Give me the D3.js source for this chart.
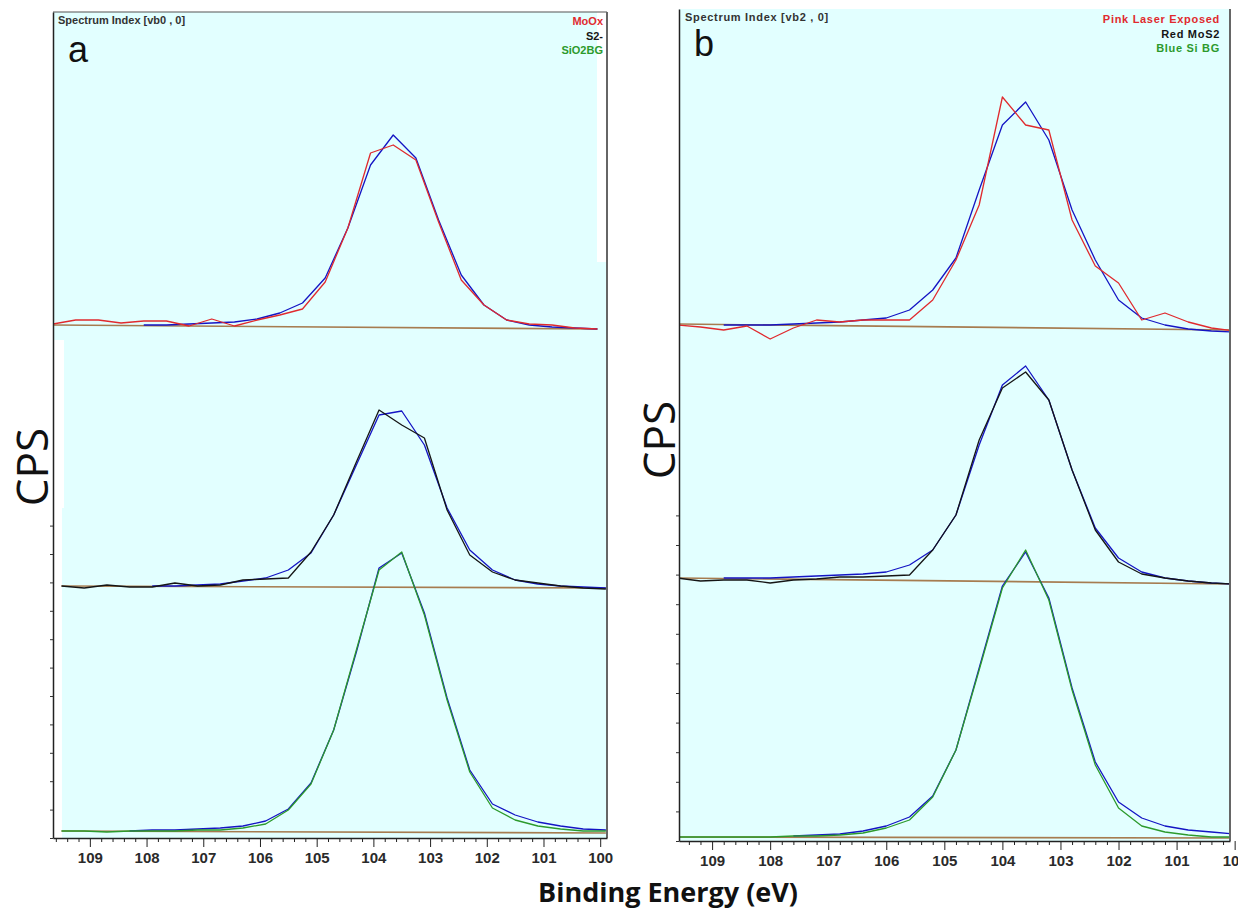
<!DOCTYPE html>
<html>
<head>
<meta charset="utf-8">
<script src="https://cdn.jsdelivr.net/npm/d3@7"></script>
<style>
  body { margin: 0; background: #fff; }
  svg text { font-family: "Liberation Sans", Arial, sans-serif; }
</style>
</head>
<body>
<svg id="chart" width="1238" height="913"></svg>
<script>
// ---- data (binding energy in eV, intensity in stacked CPS units) ----
const tickLabels = [109, 108, 107, 106, 105, 104, 103, 102, 101, 100];

// panel a: top spectrum grid, and grid for middle / bottom spectra
const energyA1 = [109.65, 109.25, 108.85, 108.45, 108.05, 107.65, 107.25, 106.85, 106.45, 106.05,
  105.65, 105.25, 104.85, 104.45, 104.05, 103.65, 103.25, 102.85, 102.45, 102.05,
  101.65, 101.25, 100.85, 100.45, 100.05];
const energyA2 = [109.5, 109.1, 108.7, 108.3, 107.9, 107.5, 107.1, 106.7, 106.3, 105.9,
  105.5, 105.1, 104.7, 104.3, 103.9, 103.5, 103.1, 102.7, 102.3, 101.9,
  101.5, 101.1, 100.7, 100.3, 99.9];

const moOxData = [514, 518, 518, 515, 517, 517, 512, 519, 512, 518, 523, 529, 556, 610, 685, 693, 678, 616,
  558, 533, 518, 514, 513, 510, 509];
const moOxFit = [null, null, null, null, 513, 513, 514, 515, 516, 519, 525, 535, 560, 610, 673, 703, 680,
  618, 563, 533, 518, 513, 511, 510, 509];
const moOxBg = [513, 509];

const s2Data = [252, 250, 253, 251, 251, 255, 252, 253, 258, 259, 260, 286, 323, 376, 428, 413, 400, 328,
  283, 266, 258, 255, 252, 250, 249];
const s2Fit = [null, null, null, null, 252, 252, 253, 254, 257, 260, 268, 285, 323, 373, 423, 427, 393,
  330, 288, 268, 258, 254, 252, 251, 250];
const s2Bg = [252, 250];

const sio2Data = [7, 7, 6, 7, 7, 7, 8, 8, 10, 14, 28, 54, 108, 188, 268, 286, 223, 138, 66, 30, 18, 12, 9, 7, 7];
const sio2Fit = [null, null, null, 7, 8, 8, 9, 10, 12, 17, 29, 55, 108, 186, 270, 285, 225, 140, 68, 34,
  23, 16, 12, 9, 8];
const sio2Bg = [7, 5];

// panel b
const energyB = [109.6, 109.2, 108.8, 108.4, 108.0, 107.6, 107.2, 106.8, 106.4, 106.0,
  105.6, 105.2, 104.8, 104.4, 104.0, 103.6, 103.2, 102.8, 102.4, 102.0,
  101.6, 101.2, 100.8, 100.4, 100.0];

const pinkData = [516, 514, 511, 515, 502, 513, 521, 519, 521, 521, 521, 541, 581, 636, 744, 716, 711, 621,
  575, 558, 521, 528, 519, 513, 510];
const pinkFit = [null, null, 516, 516, 516, 517, 518, 519, 521, 523, 531, 551, 583, 651, 716, 739, 701,
  631, 581, 541, 523, 516, 512, 510, 509];
const pinkBg = [517, 511];

const redMoS2Data = [263, 260, 261, 261, 258, 261, 262, 264, 264, 265, 266, 291, 326, 401, 453, 469, 441,
  371, 311, 279, 267, 263, 260, 258, 257];
const redMoS2Fit = [null, null, 263, 263, 263, 264, 265, 266, 267, 269, 276, 291, 326, 396, 456, 475, 441,
  371, 313, 283, 269, 263, 260, 258, 257];
const redMoS2Bg = [263, 257];

const blueSiData = [4, 4, 4, 4, 4, 5, 5, 6, 8, 13, 21, 44, 91, 171, 253, 291, 241, 151, 76, 33, 15, 9, 6, 4, 4];
const blueSiFit = [null, null, null, null, null, 5, 6, 7, 10, 15, 24, 45, 91, 173, 255, 289, 243, 153, 79,
  39, 23, 15, 11, 9, 7];
const blueSiBg = [4, 3];

const legendA = ["MoOx", "S2-", "SiO2BG"];
const legendB = ["Pink Laser Exposed", "Red MoS2", "Blue Si BG"];

// ---- styles ----
const RED = "#e02a2e", BLUE = "#1414c4", BLACK = "#151515", GREEN = "#2c9a2c", BROWN = "#a67c50";
const BGC = "#e2ffff";

const svg = d3.select("#chart");

function drawPanel(cfg) {
  const x = d3.scaleLinear().domain(cfg.eDomain).range([cfg.x0, cfg.x1]);
  const y = d3.scaleLinear().domain([0, cfg.y1 - cfg.y0]).range([cfg.y1, cfg.y0]);

  const g = svg.append("g");

  g.append("rect")
    .attr("x", cfg.x0).attr("y", cfg.y0)
    .attr("width", cfg.x1 - cfg.x0).attr("height", cfg.y1 - cfg.y0)
    .attr("fill", BGC);

  // white gaps left from the stitched screenshots
  (cfg.patches || []).forEach(p => {
    g.append("rect").attr("x", p[0]).attr("y", p[1]).attr("width", p[2]).attr("height", p[3])
      .attr("fill", "#fff");
  });

  const clipId = "clip-" + cfg.id;
  svg.append("clipPath").attr("id", clipId)
    .append("rect")
    .attr("x", cfg.x0).attr("y", cfg.y0)
    .attr("width", cfg.x1 - cfg.x0).attr("height", cfg.y1 - cfg.y0);

  const plot = g.append("g").attr("clip-path", `url(#${clipId})`);

  const line = d3.line()
    .defined(d => d[1] != null)
    .x(d => x(d[0]))
    .y(d => y(d[1]));

  cfg.series.forEach(s => {
    const pts = s.bg
      ? [[s.e[0], s.v[0]], [s.e[s.e.length - 1], s.v[1]]]
      : s.e.map((e, i) => [e, s.v[i]]);
    plot.append("path")
      .datum(pts)
      .attr("fill", "none")
      .attr("stroke", s.color)
      .attr("stroke-width", s.bg ? 1.6 : 1.3)
      .attr("stroke-linejoin", "round")
      .attr("d", line);
  });

  // frame: top and right in gray
  if (cfg.topBorder) {
    g.append("line").attr("x1", cfg.x0).attr("x2", cfg.x1).attr("y1", cfg.y0).attr("y2", cfg.y0)
      .attr("stroke", "#555").attr("stroke-width", 1.2);
  }
  g.append("line").attr("x1", cfg.x1).attr("x2", cfg.x1).attr("y1", cfg.y0).attr("y2", cfg.y1)
    .attr("stroke", "#666").attr("stroke-width", 2);

  // minor x ticks
  const minor = d3.range(0, 60).map(i => 100 + i * 0.2).filter(v => {
    const [a, b] = x.domain();
    return v <= Math.max(a, b) && v >= Math.min(a, b) && Math.abs(v - Math.round(v)) > 1e-6;
  });
  g.append("g")
    .attr("transform", `translate(0,${cfg.y1})`)
    .call(d3.axisBottom(x).tickValues(minor).tickSize(4).tickFormat(""))
    .call(a => a.select(".domain").remove())
    .call(a => a.selectAll("line").attr("stroke", "#222"));

  const xAxisG = g.append("g")
    .attr("transform", `translate(0,${cfg.y1})`)
    .call(d3.axisBottom(x).tickValues(tickLabels).tickSize(9).tickSizeOuter(0).tickPadding(5).tickFormat(d3.format("d")));
  xAxisG.select(".domain").attr("stroke", "#222").attr("stroke-width", 1.5);
  xAxisG.selectAll("line").attr("stroke", "#222");
  xAxisG.selectAll("text")
    .style("font-family", "'Liberation Sans Narrow', 'Liberation Sans', Arial, sans-serif")
    .style("font-weight", "bold")
    .style("font-size", "15px")
    .attr("fill", "#2a2a2a");

  // left axis with small ticks in lower part
  const yAxisG = g.append("g")
    .attr("transform", `translate(${cfg.x0},0)`)
    .call(d3.axisLeft(y).tickValues(d3.range(0, cfg.tickTop, cfg.tickStep)).tickSize(3).tickSizeOuter(0).tickFormat(""));
  yAxisG.select(".domain").attr("stroke", "#222").attr("stroke-width", 1.5);
  yAxisG.selectAll("line").attr("stroke", "#333");

  // header texts
  g.append("text")
    .attr("x", cfg.x0 + cfg.titleDx).attr("y", cfg.y0 + 12)
    .style("font-size", "11px").style("font-weight", "bold")
    .style("letter-spacing", cfg.titleSpacing)
    .attr("fill", "#333")
    .text(cfg.title);

  cfg.legend.forEach((t, i) => {
    g.append("text")
      .attr("x", cfg.legendX).attr("y", cfg.legendY + i * 14.5)
      .attr("text-anchor", "end")
      .style("font-size", "11px").style("font-weight", "bold")
      .style("letter-spacing", cfg.titleSpacing)
      .attr("fill", cfg.legendColors[i])
      .text(t);
  });

  g.append("text")
    .attr("x", cfg.letterX).attr("y", cfg.letterY)
    .style("font-size", "36px")
    .attr("fill", "#111")
    .text(cfg.letter);

  g.append("text")
    .attr("transform", `translate(${cfg.cpsX},${cfg.cpsY}) rotate(-90)`)
    .attr("text-anchor", "middle")
    .style("font-family", "'Open Sans', sans-serif")
    .style("font-size", "44px")
    .attr("fill", "#111")
    .text("CPS");
}

drawPanel({
  id: "a", x0: 53, x1: 607, y0: 12, y1: 838, eDomain: [109.65, 99.88],
  tickStep: 28.4, tickTop: 315, topBorder: true,
  patches: [[597, 12, 10, 250], [53, 340, 11, 168], [53, 508, 9, 330]],
  series: [
    { e: energyA1, v: moOxBg, color: BROWN, bg: true },
    { e: energyA1, v: moOxFit, color: BLUE },
    { e: energyA1, v: moOxData, color: RED },
    { e: energyA2, v: s2Bg, color: BROWN, bg: true },
    { e: energyA2, v: s2Fit, color: BLUE },
    { e: energyA2, v: s2Data, color: BLACK },
    { e: energyA2, v: sio2Bg, color: BROWN, bg: true },
    { e: energyA2, v: sio2Fit, color: BLUE },
    { e: energyA2, v: sio2Data, color: GREEN }
  ],
  title: "Spectrum Index [vb0 , 0]", titleDx: 5, titleSpacing: "0px",
  legend: legendA, legendColors: [RED, BLACK, GREEN], legendX: 603, legendY: 25,
  letter: "a", letterX: 68, letterY: 62, cpsX: 48, cpsY: 467
});

drawPanel({
  id: "b", x0: 679, x1: 1230, y0: 9, y1: 841, eDomain: [109.57, 100.08],
  tickStep: 29.6, tickTop: 330, topBorder: false,
  series: [
    { e: energyB, v: pinkBg, color: BROWN, bg: true },
    { e: energyB, v: pinkFit, color: BLUE },
    { e: energyB, v: pinkData, color: RED },
    { e: energyB, v: redMoS2Bg, color: BROWN, bg: true },
    { e: energyB, v: redMoS2Fit, color: BLUE },
    { e: energyB, v: redMoS2Data, color: BLACK },
    { e: energyB, v: blueSiBg, color: BROWN, bg: true },
    { e: energyB, v: blueSiFit, color: BLUE },
    { e: energyB, v: blueSiData, color: GREEN }
  ],
  title: "Spectrum Index [vb2 , 0]", titleDx: 6, titleSpacing: "0.7px",
  legend: legendB, legendColors: [RED, BLACK, GREEN], legendX: 1220, legendY: 23,
  letter: "b", letterX: 694, letterY: 56, cpsX: 675, cpsY: 440
});

svg.append("text")
  .attr("x", 668).attr("y", 902)
  .attr("text-anchor", "middle")
  .style("font-family", "'Open Sans', sans-serif")
  .style("font-size", "27px").style("font-weight", "bold")
  .attr("fill", "#111")
  .text("Binding Energy (eV)");
</script>
</body>
</html>
